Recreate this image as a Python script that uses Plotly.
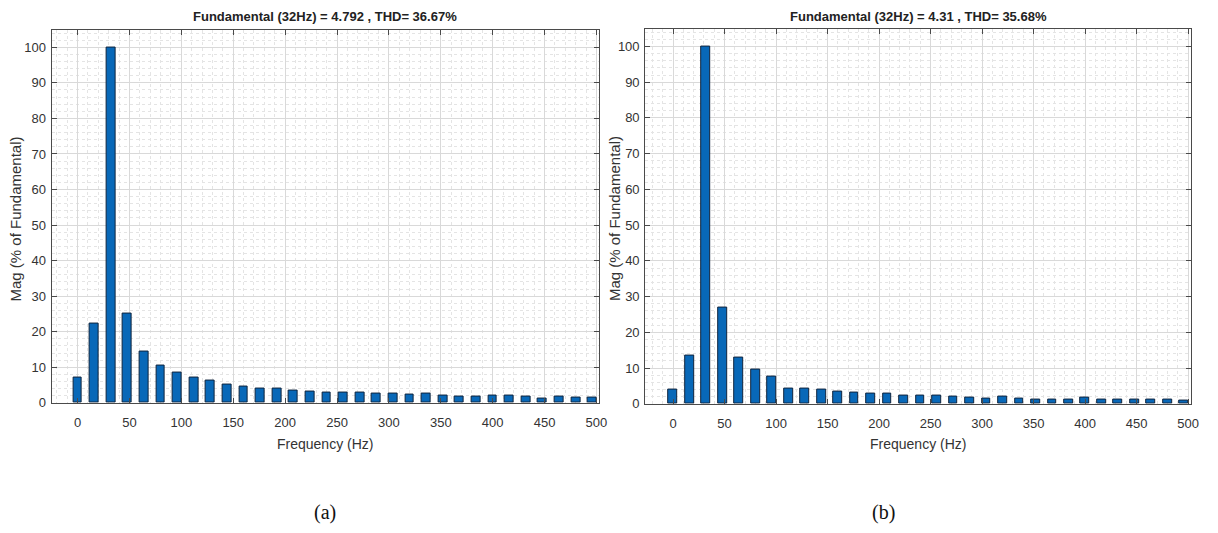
import plotly.graph_objects as go

# Harmonic bins of the FFT analysis (Hz), 16 Hz resolution
freq_hz = [0, 16, 32, 48, 64, 80, 96, 112, 128, 144, 160, 176, 192, 208, 224, 240,
           256, 272, 288, 304, 320, 336, 352, 368, 384, 400, 416, 432, 448, 464, 480, 496]

# Magnitudes in % of the fundamental
mag_a = [7.2, 22.2, 100, 25.0, 14.4, 10.4, 8.4, 7.2, 6.2, 5.1, 4.7, 4.0, 3.9, 3.6, 3.3, 3.0,
         3.0, 3.0, 2.6, 2.6, 2.2, 2.5, 2.0, 1.9, 1.8, 2.0, 2.0, 1.9, 1.2, 1.8, 1.6, 1.6]
mag_b = [4.1, 13.4, 100, 26.9, 13.0, 9.5, 7.6, 4.4, 4.4, 4.0, 3.3, 3.2, 2.9, 2.9, 2.2, 2.2,
         2.2, 1.9, 1.85, 1.6, 1.9, 1.6, 1.3, 1.3, 1.2, 1.7, 1.2, 1.2, 1.3, 1.2, 1.2, 0.9]

titles = ["Fundamental (32Hz) = 4.792 , THD= 36.67%",
          "Fundamental (32Hz) = 4.31 , THD= 35.68%"]
captions = ["(a)", "(b)"]
x_ticks = [0, 50, 100, 150, 200, 250, 300, 350, 400, 450, 500]
y_ticks = [0, 10, 20, 30, 40, 50, 60, 70, 80, 90, 100]

W, H = 1218, 533
SANS = "Liberation Sans, Arial, sans-serif"
SERIF = "Liberation Serif, Times New Roman, serif"
AX = "#4a4a4a"
TXT = "#333333"
BAR = "#0868b8"
EDGE = "#10243d"

# panel boxes in pixels: (left, right, top, bottom), x-range
panels = [
    dict(l=52, r=603, t=30, b=409, xr=[-25, 502], ylab_x=16, cap_x=327),
    dict(l=650, r=1200, t=29, b=410, xr=[-27, 503], ylab_x=619, cap_x=890),
]

fig = go.Figure()
annotations = []

for i, (p, mags) in enumerate(zip(panels, [mag_a, mag_b])):
    xa = "x" if i == 0 else "x2"
    ya = "y" if i == 0 else "y2"
    fig.add_trace(go.Bar(
        x=freq_hz, y=mags, width=8.5, xaxis=xa, yaxis=ya,
        marker=dict(color=BAR, line=dict(color=EDGE, width=1)),
        showlegend=False, hoverinfo="x+y",
    ))
    xdom = [p["l"] / W, p["r"] / W]
    ydom = [1 - p["b"] / H, 1 - p["t"] / H]
    axis_common = dict(
        showline=True, linecolor=AX, linewidth=1, mirror="ticks",
        ticks="inside", ticklen=5, tickcolor=AX,
        showgrid=True, gridcolor="#d9d9d9", gridwidth=1, zeroline=False,
        tickfont=dict(family=SANS, size=13, color=TXT),
    )
    xkey = "xaxis" if i == 0 else "xaxis2"
    ykey = "yaxis" if i == 0 else "yaxis2"
    fig.update_layout(**{
        xkey: dict(axis_common, domain=xdom, range=p["xr"], anchor=ya,
                   tickmode="array", tickvals=x_ticks, ticklabelstandoff=8,
                   minor=dict(dtick=10, tick0=0, showgrid=True, griddash="dot",
                              gridcolor="#e4e4e4", ticks="")),
        ykey: dict(axis_common, domain=ydom, range=[0, 105], anchor=xa,
                   tickmode="array", tickvals=y_ticks, ticklabelstandoff=2,
                   minor=dict(dtick=2, tick0=0, showgrid=True, griddash="dot",
                              gridcolor="#e4e4e4", ticks="")),
    })
    cx = (p["l"] + p["r"]) / 2
    annotations += [
        dict(text="<b>" + titles[i] + "</b>", x=cx / W, y=1 - 17 / H,
             xref="paper", yref="paper", showarrow=False,
             font=dict(family=SANS, size=13, color="#222222"),
             xanchor="center", yanchor="middle"),
        dict(text="Frequency (Hz)", x=cx / W, y=1 - 451 / H,
             xref="paper", yref="paper", showarrow=False,
             font=dict(family=SANS, size=14, color=TXT),
             xanchor="center", yanchor="middle"),
        dict(text="Mag (% of Fundamental)", x=p["ylab_x"] / W, y=1 - 222 / H,
             xref="paper", yref="paper", showarrow=False, textangle=-90,
             font=dict(family=SANS, size=15, color=TXT),
             xanchor="center", yanchor="middle"),
        dict(text=captions[i], x=p["cap_x"] / W, y=1 - 520 / H,
             xref="paper", yref="paper", showarrow=False,
             font=dict(family=SERIF, size=20, color="#111111"),
             xanchor="center", yanchor="middle"),
    ]

fig.update_layout(
    width=W, height=H, autosize=False,
    margin=dict(l=0, r=0, t=0, b=0),
    paper_bgcolor="white", plot_bgcolor="white",
    bargap=0, annotations=annotations,
)

fig.write_html("out.html")
